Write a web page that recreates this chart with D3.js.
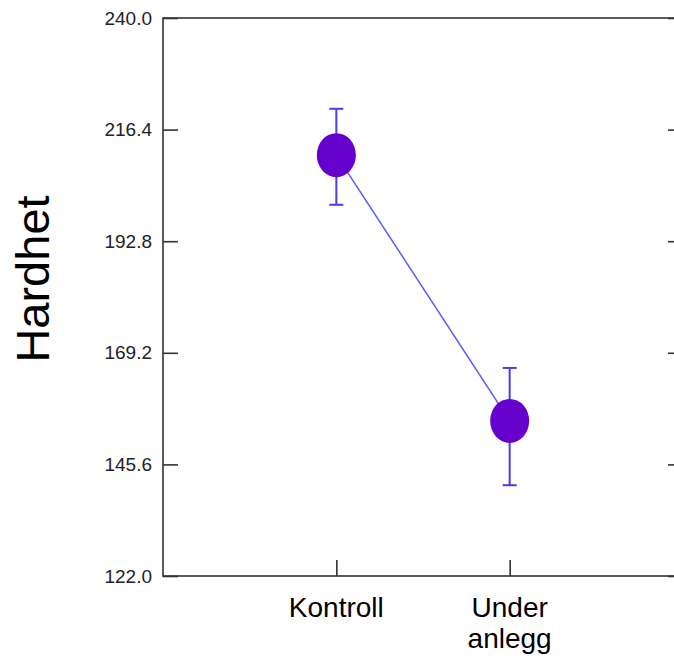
<!DOCTYPE html>
<html><head><meta charset="utf-8">
<script src="https://cdn.jsdelivr.net/npm/d3@7"></script>
<style>html,body{margin:0;padding:0;background:#fff;} svg{display:block;}</style>
</head><body>
<script>
const categories = ["Kontroll", "Under\nanlegg"];
const means = [211.0, 154.8];
const upper = [220.8, 166.0];
const lower = [200.5, 141.2];
const yTicks = [122.0, 145.6, 169.2, 192.8, 216.4, 240.0];
const yLabel = "Hardhet";

(function () {
const W = 674, H = 659;
const svg = d3.select("body").append("svg").attr("width", W).attr("height", H);
const mLeft = 163, mRight = 683, mTop = 18, mBottom = 576;
const x = d3.scaleLinear().domain([0, 3]).range([mLeft, mRight]);
const y = d3.scaleLinear().domain([122, 240]).range([mBottom, mTop]);
const axisColor = "#333";
const font = "'Liberation Sans', Arial, sans-serif";

// frame
svg.append("rect").attr("x", mLeft).attr("y", mTop).attr("width", mRight - mLeft).attr("height", mBottom - mTop)
  .attr("fill", "none").attr("stroke", axisColor).attr("stroke-width", 1.6);

// left axis (ticks inward)
const yAxis = d3.axisLeft(y).tickValues(yTicks).tickSize(-15).tickPadding(11).tickFormat(d3.format(".1f"));
const ga = svg.append("g").attr("transform", `translate(${mLeft},0)`).call(yAxis);
ga.select(".domain").remove();
ga.selectAll(".tick line").attr("stroke", axisColor).attr("stroke-width", 1.6);
ga.selectAll(".tick text").attr("font-family", font).attr("font-size", 19).attr("fill", "#222");

// right axis ticks inward
const yAxisR = d3.axisRight(y).tickValues(yTicks).tickSize(-15).tickFormat("");
const gr = svg.append("g").attr("transform", `translate(${mRight},0)`).call(yAxisR);
gr.select(".domain").remove();
gr.selectAll(".tick line").attr("stroke", axisColor).attr("stroke-width", 1.6);

// bottom axis
const xAxis = d3.axisBottom(x).tickValues([1, 2]).tickSize(-16).tickFormat("");
const gb = svg.append("g").attr("transform", `translate(0,${mBottom})`).call(xAxis);
gb.select(".domain").remove();
gb.selectAll(".tick line").attr("stroke", axisColor).attr("stroke-width", 1.6);

// category labels
categories.forEach((c, i) => {
  const t = svg.append("text").attr("x", x(i + 1)).attr("y", 617)
    .attr("text-anchor", "middle").attr("font-family", font).attr("font-size", 28).attr("fill", "#000");
  c.split("\n").forEach((line, j) => {
    t.append("tspan").attr("x", x(i + 1)).attr("dy", j === 0 ? 0 : 31).text(line);
  });
});

// y label
svg.append("text").attr("transform", `translate(49,279) rotate(-90)`)
  .attr("text-anchor", "middle").attr("font-family", font).attr("font-size", 47).attr("fill", "#000").text(yLabel);

// connecting line
const line = d3.line().x((d, i) => x(i + 1)).y(d => y(d));
svg.append("path").datum(means).attr("d", line).attr("fill", "none").attr("stroke", "#5a5af8").attr("stroke-width", 1.5);

// error bars
const errColor = "#4a3cf0";
means.forEach((m, i) => {
  const cx = x(i + 1);
  svg.append("line").attr("x1", cx).attr("x2", cx).attr("y1", y(upper[i])).attr("y2", y(lower[i]))
    .attr("stroke", errColor).attr("stroke-width", 2);
  [upper[i], lower[i]].forEach(v => {
    svg.append("line").attr("x1", cx - 7).attr("x2", cx + 7).attr("y1", y(v)).attr("y2", y(v))
      .attr("stroke", errColor).attr("stroke-width", 2);
  });
});

// points
svg.selectAll("ellipse.pt").data(means).enter().append("ellipse").attr("class", "pt")
  .attr("cx", (d, i) => x(i + 1)).attr("cy", d => y(d)).attr("rx", 19.5).attr("ry", 22)
  .attr("fill", "#6600cc");
})();
</script>
</body></html>
